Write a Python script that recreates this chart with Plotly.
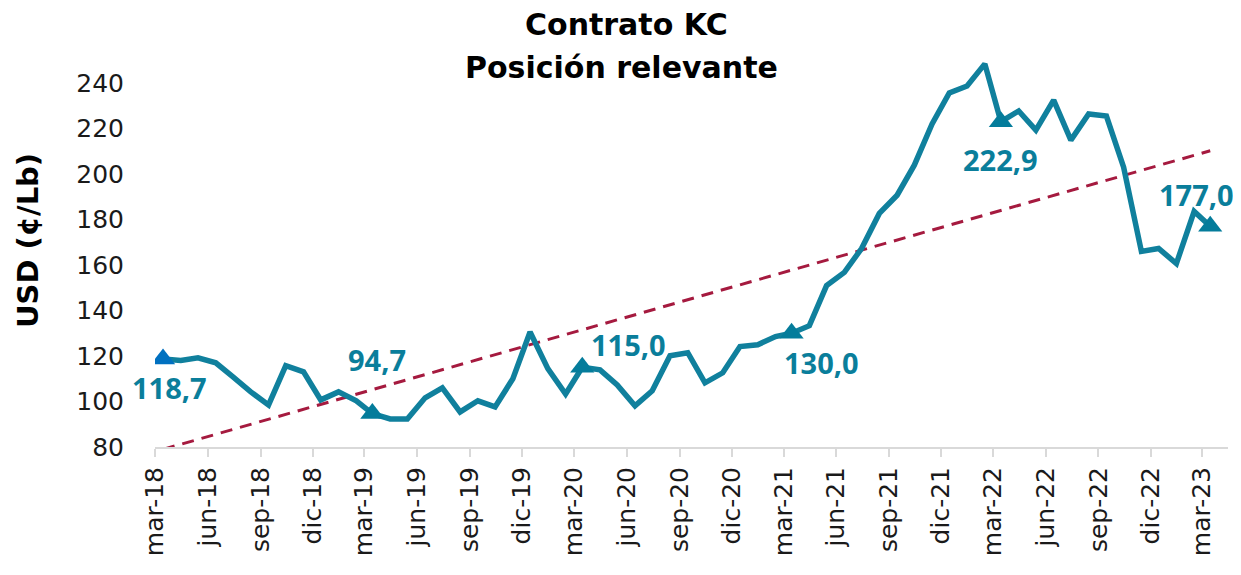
import plotly.graph_objects as go
import numpy as np
import pandas as pd

# Monthly KC contract values (¢/Lb), mar-18 .. mar-23
values = [118.7, 118.0, 119.2, 117.0, 110.8, 104.2, 98.5, 115.7, 113.0, 100.7, 104.2, 100.3,
          94.7, 92.3, 92.3, 101.6, 106.0, 95.4, 100.3, 97.6, 110.0, 130.5, 114.4, 103.3,
          115.0, 113.9, 107.3, 98.1, 104.7, 120.1, 121.4, 108.2, 112.6, 124.1, 124.9, 128.5,
          130.0, 133.3, 150.9, 156.7, 167.2, 182.6, 190.6, 203.8, 221.9, 235.5, 238.6, 248.3,
          222.9, 227.6, 219.2, 232.4, 214.8, 226.3, 225.4, 202.9, 165.9, 167.2, 160.6, 183.5,
          177.0]
start_month = "2018-03"
tick_labels = ["mar-18", "jun-18", "sep-18", "dic-18", "mar-19", "jun-19", "sep-19", "dic-19",
               "mar-20", "jun-20", "sep-20", "dic-20", "mar-21", "jun-21", "sep-21", "dic-21",
               "mar-22", "jun-22", "sep-22", "dic-22", "mar-23"]
y_ticks = [80, 100, 120, 140, 160, 180, 200, 220, 240]
marker_idx = [0, 12, 24, 36, 48, 60]
marker_text = ["118,7", "94,7", "115,0", "130,0", "222,9", "177,0"]
label_shift = [(6, -29), (5, 54), (46, 23), (30, -29), (0, -38), (-14, 32)]

dates = pd.date_range(start_month + "-01", periods=len(values), freq="MS") + pd.Timedelta(days=14)
tick_dates = pd.date_range(start_month + "-01", periods=len(tick_labels), freq="3MS")

# linear trend
xd = np.array([(d - dates[0]).days for d in dates], dtype=float)
coef = np.polyfit(xd, np.array(values), 1)
trend = np.polyval(coef, xd[[0, -1]])

LINE = "#10809D"
TREND = "#A51A3F"

fig = go.Figure()
fig.add_trace(go.Scatter(x=[dates[0], dates[-1]], y=trend, mode="lines",
                         line=dict(color=TREND, width=3, dash="12px,8px"), hoverinfo="skip"))
fig.add_trace(go.Scatter(x=dates, y=values, mode="lines",
                         line=dict(color=LINE, width=5.5), hoverinfo="skip"))
mcolors = ["#0070C0"] + ["#047C9B"] * (len(marker_idx) - 1)
fig.add_trace(go.Scatter(x=[dates[i] for i in marker_idx], y=[values[i] for i in marker_idx],
                         mode="markers",
                         marker=dict(symbol="triangle-up", size=21, color=mcolors, line=dict(width=0)),
                         hoverinfo="skip"))

# plot area in page pixels: left 155, right 1228, top 60, bottom 447
PW, PH = 1073, 387
ann = []
for i, t, (dx, dy) in zip(marker_idx, marker_text, label_shift):
    ann.append(dict(x=dates[i], y=values[i], text=t, showarrow=False, xshift=dx, yshift=dy,
                    xanchor="center", yanchor="middle",
                    font=dict(family="Open Sans", size=29, color="#0A7E9B", weight="bold")))

ann.append(dict(xref="paper", yref="paper", x=(626 - 155) / PW, y=(447 - 25) / PH,
                text="<b>Contrato KC</b>", showarrow=False, xanchor="center", yanchor="middle",
                font=dict(family="DejaVu Sans", size=30, color="#000000")))
ann.append(dict(xref="paper", yref="paper", x=(621 - 155) / PW, y=(447 - 67) / PH,
                text="<b>Posición relevante</b>", showarrow=False, xanchor="center", yanchor="middle",
                font=dict(family="DejaVu Sans", size=30, color="#000000")))
ann.append(dict(xref="paper", yref="paper", x=(28 - 155) / PW, y=(447 - 241) / PH,
                text="<b>USD (¢/Lb)</b>", showarrow=False, textangle=-90,
                xanchor="center", yanchor="middle",
                font=dict(family="DejaVu Sans", size=29, color="#000000")))

# page has an 8px body margin, so the figure starts at (8, 8)
fig.update_layout(
    width=1233, height=567, autosize=False,
    margin=dict(l=147, r=13, t=52, b=128),
    paper_bgcolor="white", plot_bgcolor="white",
    showlegend=False,
    annotations=ann,
    xaxis=dict(type="date", range=["2018-03-01", "2023-04-15"],
               tickmode="array", tickvals=tick_dates, ticktext=tick_labels, tickangle=-90,
               ticks="outside", ticklen=8, tickwidth=2, tickcolor="#D9D9D9",
               showline=True, linecolor="#D9D9D9", linewidth=2, showgrid=False, zeroline=False,
               tickfont=dict(family="DejaVu Sans", size=25, color="#1a1a1a")),
    yaxis=dict(range=[80, 250], tickmode="array", tickvals=y_ticks,
               showgrid=False, zeroline=False, showline=False, ticks="",
               ticklabelstandoff=30,
               tickfont=dict(family="DejaVu Sans", size=25, color="#1a1a1a")),
)

fig.write_html("out.html")
